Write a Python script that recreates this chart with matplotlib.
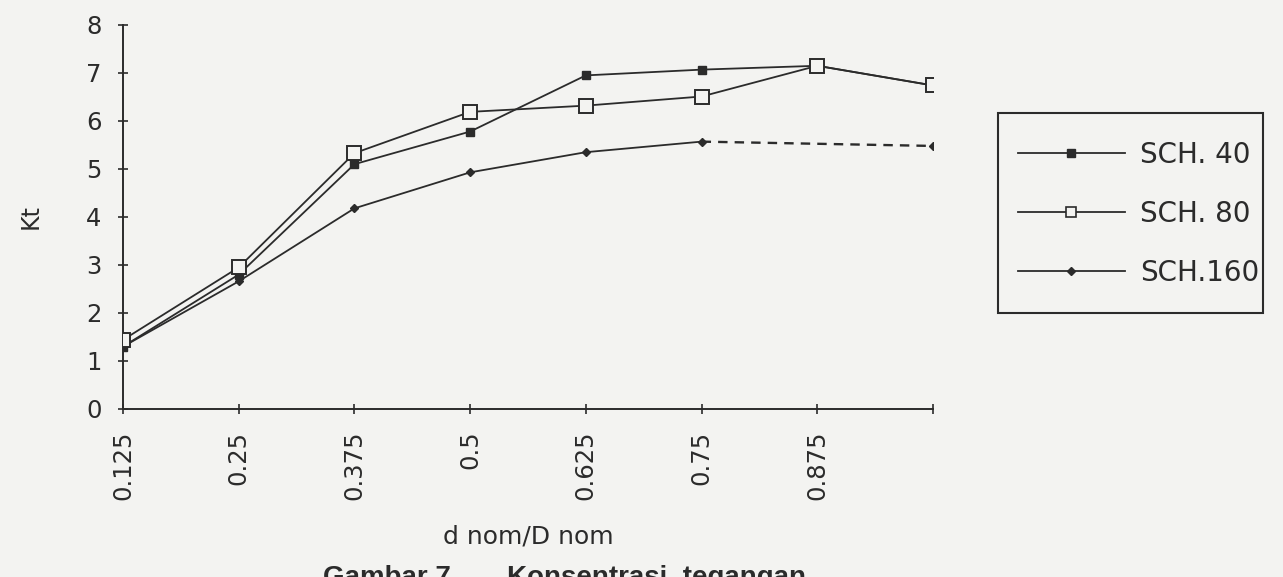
import numpy as np
import matplotlib
matplotlib.use('Agg')
import matplotlib.pyplot as plt
from matplotlib.patches import Rectangle
from matplotlib.lines import Line2D

#------------------------------------------------------------------------------
# Data
#------------------------------------------------------------------------------
ratio      = [0.125, 0.25, 0.375, 0.5, 0.625, 0.75, 0.875, 1.0]
tick_lbl   = ['0.125', '0.25', '0.375', '0.5', '0.625', '0.75', '0.875', '']

sch40      = [1.30, 2.80, 5.10, 5.78, 6.95, 7.07, 7.15, 6.74]
sch80      = [1.44, 2.95, 5.33, 6.19, 6.32, 6.51, 7.15, 6.74]
# SCH.160: solid up to 0.75, dashed from 0.75 to 1.0
sch160     = [1.30, 2.66, 4.18, 4.93, 5.35, 5.57]
ratio_dash = [0.75, 1.0]
sch160_dash = [5.57, 5.48]

names = ['SCH. 40', 'SCH. 80', 'SCH.160']

#------------------------------------------------------------------------------
# Plot
#------------------------------------------------------------------------------
bg  = '#f3f3f1'
ink = '#2b2b2b'

plt.rcParams['font.family'] = ['DejaVu Sans']

fig = plt.figure(figsize=(12.83, 5.77), dpi=100, facecolor=bg)
ax  = fig.add_axes([0.0959, 0.2912, 0.6313, 0.6655])
ax.set_facecolor(bg)

ax.plot(ratio, sch40, color=ink, lw=1.3, marker='s', ms=5.5,
        mfc=ink, mec=ink, zorder=3)
ax.plot(ratio, sch80, color=ink, lw=1.3, marker='s', ms=10,
        mfc=bg, mec=ink, mew=1.4, zorder=4)
ax.plot(ratio[:len(sch160)], sch160, color=ink, lw=1.3, marker='D', ms=4,
        mfc=ink, mec=ink, zorder=3)
ax.plot(ratio_dash, sch160_dash, color=ink, lw=1.7, ls=(0, (4, 3)),
        marker='D', ms=4, markevery=[1], mfc=ink, mec=ink, zorder=3)

ax.set_xlim(0.125, 1.0)
ax.set_ylim(0, 8)
ax.set_xticks(ratio)
ax.set_xticklabels(tick_lbl, rotation=90)
ax.set_yticks(np.arange(0, 9, 1))

for s in ['top', 'right']:
    ax.spines[s].set_visible(False)
for s in ['left', 'bottom']:
    ax.spines[s].set_color(ink)
    ax.spines[s].set_linewidth(1.4)

ax.tick_params(axis='both', direction='inout', length=7, width=1.2,
               color=ink, labelsize=17.5, labelcolor=ink, pad=12)

ax.set_ylabel('Kt', fontsize=17, color=ink)
ax.yaxis.set_label_coords(-0.099, 0.5)
ax.set_xlabel('d nom/D nom', fontsize=18, color=ink)
ax.xaxis.set_label_coords(0.5, -0.300)

# legend box drawn by hand (text sits close to the right edge)
fig.patches.append(Rectangle((998 / 1283, 1 - 313 / 577), 265 / 1283, 200 / 577,
                             transform=fig.transFigure, fill=False,
                             edgecolor=ink, lw=1.5))
handles = [
    Line2D([], [], color=ink, lw=1.3, marker='s', ms=5.5, mfc=ink, mec=ink),
    Line2D([], [], color=ink, lw=1.3, marker='s', ms=7, mfc=bg, mec=ink, mew=1.2),
    Line2D([], [], color=ink, lw=1.3, marker='D', ms=4, mfc=ink, mec=ink),
]
leg = fig.legend(handles, names, loc='upper left',
                 bbox_to_anchor=(1004 / 1283, 1 - 127 / 577),
                 frameon=False, fontsize=20, handlelength=3.85,
                 handletextpad=0.55, labelspacing=1.12, borderpad=0.0)
for t in leg.get_texts():
    t.set_color(ink)

# caption at the page bottom (cut off in the scan)
fig.text(323 / 1283, 1 - 565 / 577, 'Gambar 7', fontsize=20, color=ink,
         va='top', ha='left', family='Liberation Sans', weight='bold')
fig.text(507 / 1283, 1 - 565 / 577, 'Konsentrasi  tegangan', fontsize=20,
         color=ink, va='top', ha='left', family='Liberation Sans', weight='bold')

plt.savefig('out.png', dpi=100, facecolor=bg)
